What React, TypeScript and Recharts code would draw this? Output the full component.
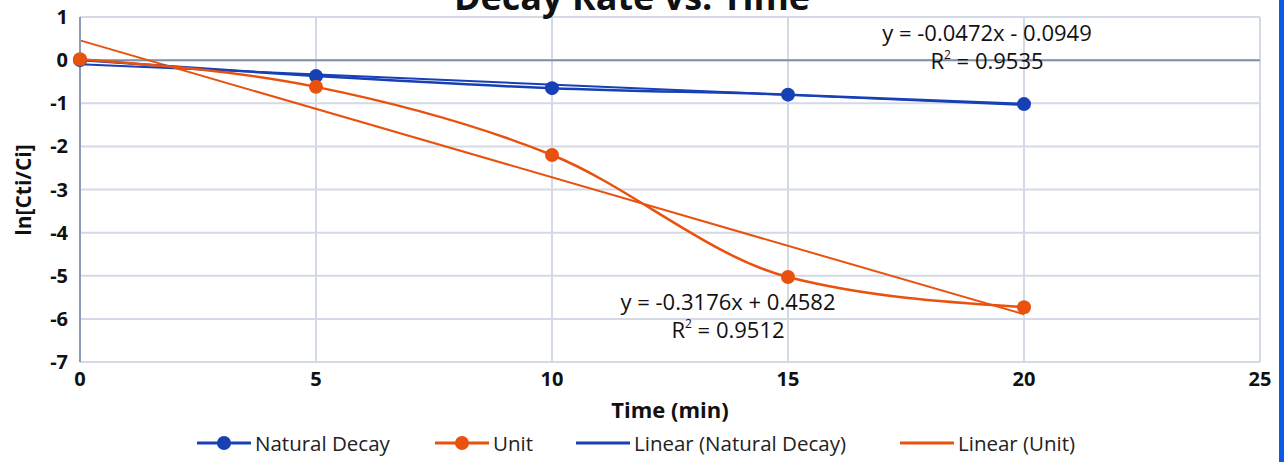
import { LineChart, Line, XAxis, YAxis, CartesianGrid, ReferenceLine } from 'recharts';

const times = [0, 5, 10, 15, 20];
const naturalDecay = [0, -0.37, -0.65, -0.8, -1.02];
const unit = [0.02, -0.62, -2.2, -5.03, -5.73];

const trendTimes = [0, 20];
const naturalTrend = [-0.095, -1.039];
const unitTrend = [0.458, -5.894];

const xTicks = [0, 5, 10, 15, 20, 25];
const yTicks = [-7, -6, -5, -4, -3, -2, -1, 0, 1];

const BLUE = '#1740b5';
const ORANGE = '#e9520e';
const FONT = '"Open Sans", sans-serif';

const naturalData = times.map((t, i) => ({ t, v: naturalDecay[i] }));
const unitData = times.map((t, i) => ({ t, v: unit[i] }));
const naturalTrendData = trendTimes.map((t, i) => ({ t, v: naturalTrend[i] }));
const unitTrendData = trendTimes.map((t, i) => ({ t, v: unitTrend[i] }));

const legendItems = [
    { name: 'Natural Decay', color: BLUE, dot: true },
    { name: 'Unit', color: ORANGE, dot: true },
    { name: 'Linear (Natural Decay)', color: BLUE, dot: false },
    { name: 'Linear (Unit)', color: ORANGE, dot: false },
];
const legendLeft = [197, 435, 576, 900];

const eqStyle = {
    position: 'absolute' as const,
    fontFamily: FONT,
    fontSize: 22,
    color: '#111',
    transform: 'translateX(-50%)',
    whiteSpace: 'nowrap' as const,
    lineHeight: '28px',
    textAlign: 'center' as const,
};
const supStyle = { fontSize: 12, verticalAlign: 'top', lineHeight: '14px', position: 'relative' as const, top: 2 };

const App = () => {
    return (
        <div style={{ position: 'relative', width: 1284, height: 462, background: '#fff', overflow: 'hidden' }}>
            <style>{`body{margin:0}`}</style>
            <LineChart width={1284} height={462} margin={{ top: 17, right: 24, bottom: 60, left: 0 }}>
                <text x={632} y={10} textAnchor="middle" fontFamily={FONT} fontWeight={700} fontSize={36} fill="#111">
                    Decay Rate vs. Time
                </text>
                <CartesianGrid stroke="#d3dae5" strokeWidth={2} />
                <XAxis
                    type="number"
                    dataKey="t"
                    domain={[0, 25]}
                    ticks={xTicks}
                    height={40}
                    tickLine={false}
                    axisLine={{ stroke: '#d3dae5', strokeWidth: 2 }}
                    tick={{ fontFamily: FONT, fontWeight: 700, fontSize: 20, fill: '#111' }}
                    tickMargin={4}
                    allowDuplicatedCategory={false}
                />
                <YAxis
                    type="number"
                    domain={[-7, 1]}
                    ticks={yTicks}
                    width={80}
                    tickLine={false}
                    axisLine={{ stroke: '#8b9cb6', strokeWidth: 2 }}
                    tick={{ fontFamily: FONT, fontWeight: 700, fontSize: 20, fill: '#111' }}
                    tickMargin={6}
                />
                <ReferenceLine y={0} stroke="#7f90aa" strokeWidth={2} />
                <Line data={naturalTrendData} dataKey="v" type="linear" stroke={BLUE} strokeWidth={2} dot={false} isAnimationActive={false} />
                <Line data={unitTrendData} dataKey="v" type="linear" stroke={ORANGE} strokeWidth={2} dot={false} isAnimationActive={false} />
                <Line data={naturalData} dataKey="v" type="monotone" stroke={BLUE} strokeWidth={2.5} dot={{ r: 7, fill: BLUE, stroke: BLUE, strokeWidth: 0 }} isAnimationActive={false} />
                <Line data={unitData} dataKey="v" type="monotone" stroke={ORANGE} strokeWidth={2.5} dot={{ r: 7, fill: ORANGE, stroke: ORANGE, strokeWidth: 0 }} isAnimationActive={false} />
            </LineChart>

            <div
                style={{
                    position: 'absolute', left: 23, top: 190, transform: 'translate(-50%, -50%) rotate(-90deg)',
                    fontFamily: FONT, fontWeight: 700, fontSize: 21, whiteSpace: 'nowrap', color: '#111', lineHeight: '24px',
                }}
            >
                ln[Cti/Ci]
            </div>
            <div style={{ position: 'absolute', left: 670, top: 394, transform: 'translateX(-50%)', fontFamily: FONT, fontWeight: 700, fontSize: 22, color: '#111', whiteSpace: 'nowrap' }}>
                Time (min)
            </div>

            <div style={{ ...eqStyle, left: 987, top: 18 }}>
                y = -0.0472x - 0.0949<br />R<span style={supStyle}>2</span> = 0.9535
            </div>
            <div style={{ ...eqStyle, left: 728, top: 287 }}>
                y = -0.3176x + 0.4582<br />R<span style={supStyle}>2</span> = 0.9512
            </div>

            {legendItems.map((item, i) => (
                <div
                    key={item.name}
                    style={{ position: 'absolute', left: legendLeft[i], top: 429, display: 'flex', alignItems: 'center', fontFamily: FONT, fontSize: 20.5, color: '#222', whiteSpace: 'nowrap' }}
                >
                    <svg width={54} height={20}>
                        <line x1={0} y1={10} x2={54} y2={10} stroke={item.color} strokeWidth={3} />
                        {item.dot && <circle cx={27} cy={10} r={7} fill={item.color} />}
                    </svg>
                    <span style={{ marginLeft: 4 }}>{item.name}</span>
                </div>
            ))}

            <div style={{ position: 'absolute', right: 0, top: 0, width: 5, height: 462, background: '#0a5ce8' }} />
        </div>
    );
};

export default App;
